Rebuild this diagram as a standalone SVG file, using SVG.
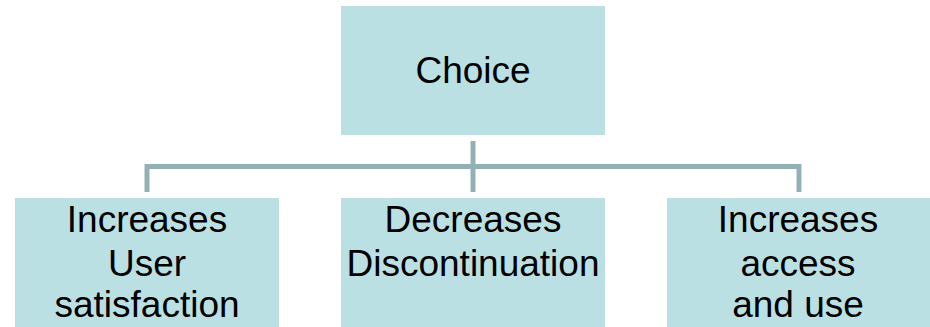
<svg xmlns="http://www.w3.org/2000/svg" width="930" height="327" viewBox="0 0 930 327">
<style>
.box{fill:#BBE0E3;stroke:none}
.t{font-family:"Liberation Sans",Arial,sans-serif;font-size:37px;fill:#000;text-anchor:middle}
.c{fill:none;stroke:#93B1B5;stroke-width:5}
</style>
<rect width="930" height="327" fill="#fff"/>
<g id="connectors">
<line class="c" x1="473" y1="141" x2="473" y2="192"/>
<path class="c" d="M147 192 V166.5 H799 V192"/>
</g>
<g id="choice">
<rect class="box" x="341" y="6" width="264" height="129"/>
<text class="t" x="473" y="83">Choice</text>
</g>
<g id="user-satisfaction">
<rect class="box" x="15" y="198" width="264" height="135"/>
<text class="t" x="147" y="232">Increases</text>
<text class="t" x="147" y="276">User</text>
<text class="t" x="147" y="317">satisfaction</text>
</g>
<g id="discontinuation">
<rect class="box" x="341" y="198" width="264" height="135"/>
<text class="t" x="473" y="232">Decreases</text>
<text class="t" x="473" y="276">Discontinuation</text>
</g>
<g id="access-use">
<rect class="box" x="667" y="198" width="263" height="135"/>
<text class="t" x="798" y="232">Increases</text>
<text class="t" x="798" y="276">access</text>
<text class="t" x="798" y="317">and use</text>
</g>
</svg>
